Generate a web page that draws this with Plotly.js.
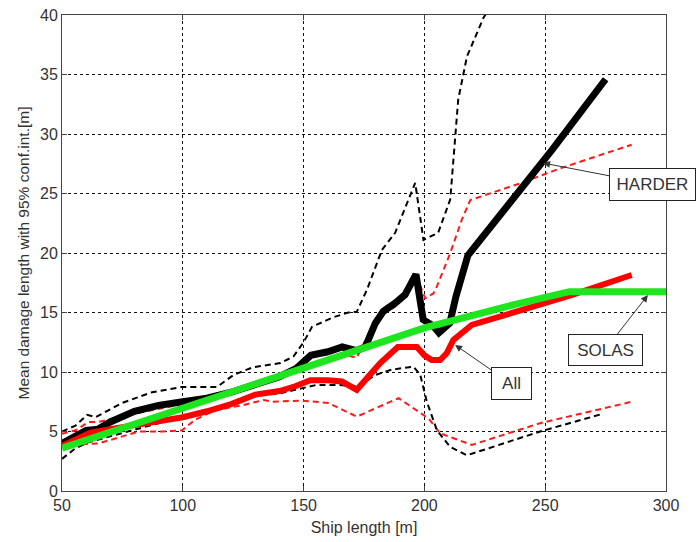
<!DOCTYPE html>
<html>
<head>
<meta charset="utf-8">
<script src="https://cdn.plot.ly/plotly-3.0.1.min.js"></script>
<style>html,body{margin:0;padding:0;background:#fff;}#chart{width:697px;height:542px;}</style>
</head>
<body>
<div id="chart"></div>
<script>
// HARDER mean (thick black)
const harderX = [50,55,60,65,70,80,90,100,110,120,130,140,147,150,153,160,166,172,175.5,179.7,183,188,192,196.5,199.5,203.5,206,210.5,213,218,233,253,275];
const harderY = [4.0,4.5,5.1,5.2,5.8,6.7,7.2,7.5,7.8,8.3,8.9,9.6,10.3,10.8,11.4,11.7,12.1,11.8,12.1,14.1,15.1,15.8,16.5,18.2,14.4,13.9,13.3,14.1,16.3,19.8,23.6,28.7,34.6];
// HARDER upper CI (dashed black)
const harderUpX = [50,55.6,60.4,63.9,74.9,87.3,99.7,114.2,121,129,140.4,145.8,150,153.5,162.3,168.5,172,176.2,182.4,187.9,196.2,199.6,205.7,210.7,214,217.6,224.3,226];
const harderUpY = [5.0,5.5,6.4,6.2,7.4,8.3,8.75,8.75,9.75,10.4,10.75,11.3,12.5,13.8,14.6,15.0,15.05,16.9,20.25,21.7,25.9,21.1,21.7,24.5,32.9,36.5,39.7,40.3];
// HARDER lower CI (dashed black)
const harderLoX = [50,55.6,61,70,80,90,100,110,120,130,140,147,155,165,172.6,179.7,186.5,195.5,198.3,201,205.2,210.7,217.6,247.9,274];
const harderLoY = [2.7,3.6,4.1,4.6,5.2,5.7,6.2,6.7,7.4,8.0,8.2,8.5,8.9,8.9,8.8,9.75,10.2,10.45,9.75,7.5,5.1,3.7,3.0,5.0,6.5];
// All mean (thick red)
const allX = [50,55,61.8,70,80,90,100,110,120,130,140,146.5,152.8,160,165.9,172,181.7,189,196.9,200,203,206.5,209.3,212,219.6,261.5,285.8];
const allY = [3.8,4.3,4.9,5.2,5.5,5.8,6.2,6.7,7.3,8.1,8.4,8.8,9.3,9.3,9.2,8.5,10.75,12.1,12.1,11.4,11.0,11.0,11.6,12.7,13.95,16.5,18.15];
// All upper CI (dashed red)
const allUpX = [50,55.6,61,65,80,100,120,140,150,160,166,172,180,188,196.9,200.3,203.7,205.2,210.7,215.5,219,239.6,256,285.8];
const allUpY = [4.8,5.1,5.8,5.8,6.5,7.3,8.4,9.4,10.4,11.2,11.5,11.2,14.5,15.5,18.0,16.2,16.6,17.2,20.0,22.8,24.45,25.85,27.1,29.1];
// All lower CI (dashed red)
const allLoX = [50,55.6,65.2,75,81.8,92,99.7,105.2,113.5,124.5,133.5,136.9,149.3,160.2,172,189.3,201.7,206.5,219.6,247.9,285.8];
const allLoY = [3.7,3.9,4.0,4.6,5.0,5.0,5.1,6.0,6.8,7.2,7.65,7.5,7.6,7.4,6.25,7.8,6.1,4.85,3.87,5.7,7.5];
// SOLAS (green)
const solasX = [50,100,150,200,234,260,300];
const solasY = [3.6,6.95,10.3,13.7,15.5,16.75,16.75];

const xTicks = [50,100,150,200,250,300];
const yTicks = [0,5,10,15,20,25,30,35,40];

const dashed = '6px,4px';
const traces = [
  {x: allUpX, y: allUpY, mode: 'lines', line: {color: '#ff1a1a', width: 2, dash: dashed}},
  {x: allLoX, y: allLoY, mode: 'lines', line: {color: '#ff1a1a', width: 2, dash: dashed}},
  {x: harderUpX, y: harderUpY, mode: 'lines', line: {color: '#000', width: 2, dash: dashed}},
  {x: harderLoX, y: harderLoY, mode: 'lines', line: {color: '#000', width: 2, dash: dashed}},
  {x: harderX, y: harderY, mode: 'lines', line: {color: '#000', width: 7}},
  {x: allX, y: allY, mode: 'lines', line: {color: '#ff0000', width: 6}},
  {x: solasX, y: solasY, mode: 'lines', line: {color: '#1ee61e', width: 7}}
];

const font = 'Liberation Sans, Arial, sans-serif';
const annBase = {xref: 'x', yref: 'y', showarrow: true, arrowhead: 2, arrowsize: 1.4, arrowwidth: 1,
  arrowcolor: '#333', bgcolor: '#fff', bordercolor: '#222', borderwidth: 1, borderpad: 5,
  font: {family: font, size: 17, color: '#333'}, standoff: 0};

const layout = {
  width: 697, height: 542,
  margin: {l: 62, r: 31, t: 15, b: 51},
  paper_bgcolor: '#fff', plot_bgcolor: '#fff',
  showlegend: false,
  font: {family: font, color: '#333'},
  xaxis: {
    range: [50, 300], tickvals: xTicks, ticktext: xTicks.map(String),
    showgrid: true, gridcolor: '#111', griddash: '3px,3px', gridwidth: 1,
    zeroline: false, showline: true, linecolor: '#444', linewidth: 1, mirror: 'allticks',
    ticks: 'inside', ticklen: 5, tickcolor: '#444',
    tickfont: {family: font, size: 16, color: '#333'},
    title: {text: 'Ship length [m]', font: {family: font, size: 16, color: '#333'}, standoff: 8}
  },
  yaxis: {
    range: [0, 40], tickvals: yTicks, ticktext: yTicks.map(String),
    showgrid: true, gridcolor: '#111', griddash: '3px,3px', gridwidth: 1,
    zeroline: false, showline: true, linecolor: '#444', linewidth: 1, mirror: 'allticks',
    ticks: 'inside', ticklen: 5, tickcolor: '#444',
    tickfont: {family: font, size: 16, color: '#333'},
    title: {text: 'Mean damage length with 95% conf.int.[m]', font: {family: font, size: 15.5, color: '#333'}, standoff: 6}
  },
  annotations: [
    Object.assign({}, annBase, {x: 249.1, y: 27.56, ax: 109, ay: 21, text: 'HARDER', width: 75, height: 21}),
    Object.assign({}, annBase, {x: 292.5, y: 16.47, ax: -42.5, ay: 54.5, text: 'SOLAS', width: 63, height: 20}),
    Object.assign({}, annBase, {x: 212.7, y: 12.27, ax: 56.5, ay: 39, text: 'All', width: 29, height: 21})
  ]
};

Plotly.newPlot('chart', traces, layout, {staticPlot: true, displayModeBar: false});
</script>
</body>
</html>
